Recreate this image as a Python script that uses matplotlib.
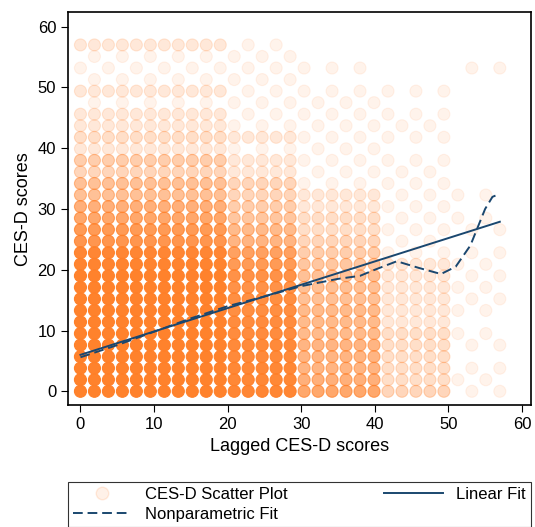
import numpy as np
import matplotlib
matplotlib.use('Agg')
import matplotlib.pyplot as plt
from matplotlib.lines import Line2D

plt.rcParams['font.family'] = ['Liberation Sans', 'DejaVu Sans']

# discrete score levels seen on both axes
score_levels = [0, 1.9, 3.8, 5.7, 7.6, 9.5, 11.4, 13.3, 15.2, 17.1, 19.0, 20.9, 22.8,
                24.7, 26.6, 28.5, 30.4, 32.3, 34.2, 36.1, 38.0, 39.9, 41.8, 43.7, 45.6,
                47.5, 49.4, 51.3, 53.2, 55.1, 57.0]
# x bands (lagged score) upper edges
band_edges = [10, 20, 30, 40, 50, 58]
# number of overlapping observations per (y level, x band), bottom row first
obs_counts = [
    [40, 40, 30, 12, 4, 1],
    [40, 40, 28, 10, 3, 1],
    [40, 40, 28, 9, 3, 1],
    [40, 40, 26, 9, 3, 0],
    [40, 40, 26, 9, 3, 1],
    [40, 40, 24, 8, 3, 1],
    [40, 40, 24, 8, 2, 0],
    [40, 40, 22, 8, 2, 1],
    [40, 40, 22, 7, 2, 1],
    [40, 40, 20, 7, 2, 1],
    [40, 40, 20, 7, 2, 1],
    [34, 34, 16, 6, 2, 1],
    [30, 30, 14, 5, 1, 1],
    [18, 18, 9, 4, 1, 0],
    [16, 16, 8, 3, 1, 1],
    [12, 12, 6, 3, 1, 1],
    [10, 10, 5, 2, 1, 0],
    [7, 7, 4, 2, 1, 1],
    [7, 7, 4, 1, 1, 0],
    [4, 4, 2, 1, 1, 0],
    [5, 5, 2, 1, 1, 0],
    [2, 2, 1, 1, 0, 0],
    [3, 3, 2, 1, 1, 0],
    [2, 2, 1, 1, 1, 0],
    [2, 2, 1, 1, 1, 0],
    [1, 1, 1, 1, 0, 0],
    [2, 2, 1, 1, 1, 0],
    [1, 1, 1, 0, 0, 0],
    [1, 1, 1, 1, 0, 1],
    [1, 1, 1, 0, 0, 0],
    [2, 2, 1, 0, 0, 0],
]

lin_x = [0, 57]
lin_y = [6.0, 27.9]
np_x = [0, 5, 10, 15, 20, 25, 30, 35, 38, 40, 43, 46, 49, 51, 53, 55, 56, 57]
np_y = [5.6, 7.6, 9.8, 12.0, 14.0, 15.6, 17.3, 18.5, 19.0, 20.0, 21.4, 20.3, 19.3, 20.5, 24.0, 30.0, 32.0, 32.5]

orange = '#ff7f27'
navy = '#1a476f'

fig = plt.figure(figsize=(5.35, 5.27), dpi=100)
ax = fig.add_axes([0.127, 0.231, 0.865, 0.746])

xs, ys, al = [], [], []
for yi, yv in enumerate(score_levels):
    for xi, xv in enumerate(score_levels):
        b = next(i for i, e in enumerate(band_edges) if xv < e)
        n = obs_counts[yi][b]
        if n == 0:
            continue
        # single observations are scattered: keep about every other cell
        if n == 1 and (xi * 3 + yi) % 2:
            continue
        xs.append(xv)
        ys.append(yv)
        al.append(1 - (1 - 0.09) ** n)
cols = [matplotlib.colors.to_rgba(orange, a) for a in al]
ax.scatter(xs, ys, s=75, c=cols, edgecolors=cols, linewidths=0.8, zorder=2)

ax.plot(lin_x, lin_y, color=navy, lw=1.4, zorder=3)
ax.plot(np_x, np_y, color=navy, lw=1.4, ls=(0, (5, 2.5)), zorder=3)

ax.set_xlim(-1.7, 61.2)
ax.set_ylim(-2.3, 62.4)
ax.set_xticks([0, 10, 20, 30, 40, 50, 60])
ax.set_yticks([0, 10, 20, 30, 40, 50, 60])
ax.tick_params(labelsize=12, length=5)
ax.set_xlabel('Lagged CES-D scores', fontsize=13)
ax.set_ylabel('CES-D scores', fontsize=13)
for s in ax.spines.values():
    s.set_linewidth(1.2)

handles = [
    Line2D([], [], ls='', marker='o', ms=9, color=matplotlib.colors.to_rgba(orange, 0.1),
           markeredgecolor=matplotlib.colors.to_rgba(orange, 0.15)),
    Line2D([], [], color=navy, lw=1.4, ls=(0, (5, 2.5))),
    Line2D([], [], color=navy, lw=1.4),
]
labels = ['CES-D Scatter Plot', 'Nonparametric Fit', 'Linear Fit']
leg = fig.legend(handles, labels, loc='lower left', bbox_to_anchor=(0.127, 0.0, 0.865, 0.108),
                 mode='expand', ncol=2, fontsize=12, frameon=True, fancybox=False,
                 edgecolor='black', handlelength=3.5, borderaxespad=0, columnspacing=1,
                 labelspacing=0.3, borderpad=0.3)
leg.get_frame().set_linewidth(0.8)

fig.savefig('out.png', dpi=100)
